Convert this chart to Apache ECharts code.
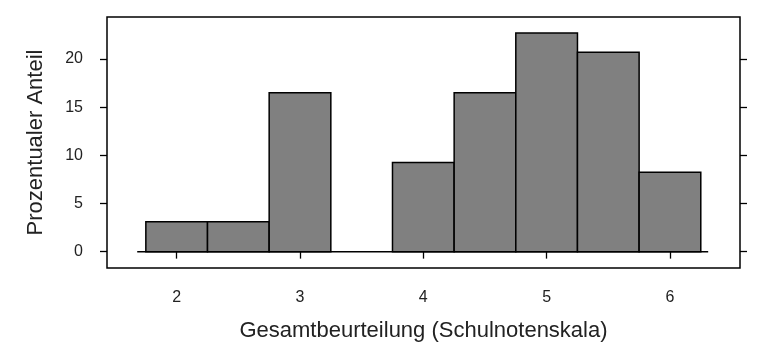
<!DOCTYPE html>
<html>
<head>
<meta charset="utf-8">
<script src="https://cdn.jsdelivr.net/npm/echarts@6/dist/echarts.min.js"></script>
<style>
  html, body { margin: 0; padding: 0; background: #fff; }
  #chart { width: 761px; height: 345px; }
</style>
</head>
<body>
<div id="chart"></div>
<script>
// Histogramm: Gesamtbeurteilung, Klassenbreite 0.5
const binStart = [1.75, 2.25, 2.75, 3.25, 3.75, 4.25, 4.75, 5.25, 5.75];
const binEnd = [2.25, 2.75, 3.25, 3.75, 4.25, 4.75, 5.25, 5.75, 6.25];
const percent = [3.1, 3.1, 16.5, 0, 9.25, 16.5, 22.7, 20.7, 8.25];
const xTicks = [2, 3, 4, 5, 6];
const yTicks = [0, 5, 10, 15, 20];
const baseLine = [1.68, 6.31];

const font = 'Liberation Sans';
const chartDom = document.getElementById('chart');
const myChart = echarts.init(chartDom);

const histData = binStart.map((s, i) => [s, binEnd[i], percent[i]]);

const tickStyle = { show: true, inside: false, length: 7, lineStyle: { color: '#000', width: 1.3 } };

const option = {
    animation: false,
    grid: {
        left: 107, top: 17, right: 21, bottom: 77,
        outerBoundsMode: 'none',
        show: true, borderColor: '#000', borderWidth: 1.5, backgroundColor: 'transparent'
    },
    xAxis: [
        {
            type: 'value', min: 1.435, max: 6.568, position: 'bottom',
            axisLine: { show: false }, splitLine: { show: false },
            axisTick: Object.assign({ customValues: xTicks }, tickStyle),
            axisLabel: { customValues: xTicks, margin: 22, fontSize: 16, color: '#222', fontFamily: font },
            name: 'Gesamtbeurteilung (Schulnotenskala)', nameLocation: 'middle', nameGap: 52,
            nameTextStyle: { fontSize: 22, color: '#222', fontFamily: font }
        },
        {
            type: 'value', min: 1.435, max: 6.568, position: 'top',
            axisLine: { show: false }, splitLine: { show: false },
            axisTick: Object.assign({ customValues: xTicks }, tickStyle),
            axisLabel: { show: false }
        }
    ],
    yAxis: [
        {
            type: 'value', min: -1.7, max: 24.37, position: 'left',
            axisLine: { show: false }, splitLine: { show: false },
            axisTick: Object.assign({ customValues: yTicks }, tickStyle),
            axisLabel: { customValues: yTicks, margin: 24, fontSize: 16, color: '#222', fontFamily: font },
            name: 'Prozentualer Anteil', nameLocation: 'middle', nameGap: 60,
            nameTextStyle: { fontSize: 22, color: '#222', fontFamily: font }
        },
        {
            type: 'value', min: -1.7, max: 24.37, position: 'right',
            axisLine: { show: false }, splitLine: { show: false },
            axisTick: Object.assign({ customValues: yTicks }, tickStyle),
            axisLabel: { show: false }
        }
    ],
    series: [
        {
            type: 'line',
            data: [[baseLine[0], 0], [baseLine[1], 0]],
            symbol: 'none',
            lineStyle: { color: '#000', width: 1.5 },
            z: 1
        },
        {
            type: 'custom',
            data: histData,
            z: 2,
            renderItem: (params, api) => {
                if (api.value(2) <= 0) return;
                const p0 = api.coord([api.value(0), api.value(2)]);
                const p1 = api.coord([api.value(1), 0]);
                return {
                    type: 'rect',
                    shape: { x: p0[0], y: p0[1], width: p1[0] - p0[0], height: p1[1] - p0[1] },
                    style: { fill: '#808080', stroke: '#000', lineWidth: 1.5 }
                };
            }
        }
    ]
};

myChart.setOption(option);
</script>
</body>
</html>
